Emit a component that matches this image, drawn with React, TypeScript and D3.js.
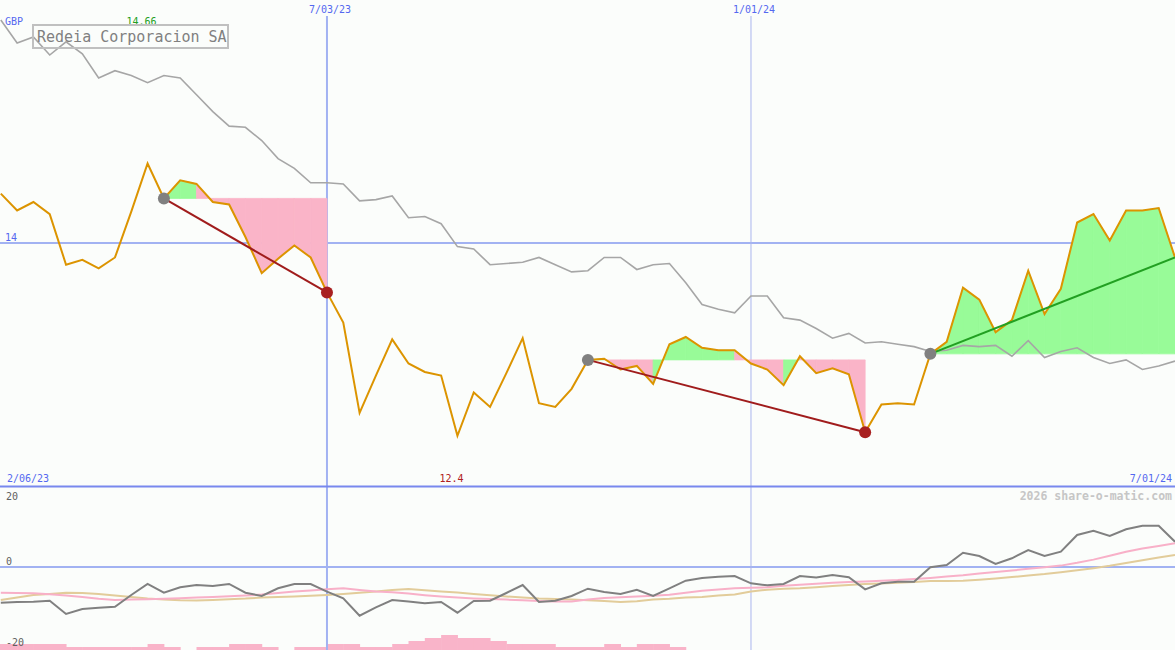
import React from "react";
import * as d3 from "d3";

const W = 1175;
const H = 650;

const axisStart = new Date(2023, 1, 6);
const axisEnd = new Date(2024, 6, 1);
const firstWeek = new Date(2023, 1, 13);
const markerDates = [new Date(2023, 6, 3), new Date(2024, 0, 1)];
const markerLabels = ["7/03/23", "1/01/24"];
const startLabel = "2/06/23";
const endLabel = "7/01/24";
const currency = "GBP";
const title = "Redeia Corporacion SA";
const watermark = "2026 share-o-matic.com";

// weekly close
const price = [
  14.41, 14.27, 14.34, 14.24, 13.82, 13.86, 13.79, 13.88, 14.26, 14.66,
  14.37, 14.52, 14.49, 14.34, 14.32, 14.05, 13.75, 13.87, 13.98, 13.88,
  13.59, 13.34, 12.59, 12.9, 13.2, 13.0, 12.93, 12.9, 12.4, 12.76,
  12.64, 12.92, 13.21, 12.67, 12.64, 12.79, 13.03, 13.04, 12.95, 12.98,
  12.83, 13.16, 13.22, 13.13, 13.11, 13.11, 13.0, 12.95, 12.82, 13.06,
  12.92, 12.96, 12.91, 12.43, 12.66, 12.67, 12.66, 13.08, 13.18, 13.63,
  13.53, 13.26, 13.36, 13.77, 13.41, 13.62, 14.17, 14.24, 14.02, 14.27,
  14.27, 14.29, 13.88,
];

// comparison (grey) line
const compare = [
  15.85, 15.66, 15.71, 15.56, 15.67, 15.57, 15.37, 15.43, 15.39, 15.33,
  15.39, 15.37, 15.23, 15.09, 14.97, 14.96, 14.85, 14.7, 14.62, 14.5,
  14.5, 14.49, 14.35, 14.36, 14.39, 14.21, 14.22, 14.16, 13.97, 13.95,
  13.82, 13.83, 13.84, 13.88, 13.82, 13.76, 13.77, 13.88, 13.88, 13.78,
  13.82, 13.83, 13.67, 13.49, 13.45, 13.42, 13.56, 13.56, 13.38, 13.36,
  13.29, 13.21, 13.25, 13.17, 13.18, 13.16, 13.14, 13.1, 13.11, 13.15,
  13.14, 13.15, 13.06, 13.19, 13.05, 13.1, 13.13, 13.05, 13.0, 13.03,
  12.95, 12.98, 13.02,
];

// lower panel oscillator
const momentum = [
  -9.04, -8.86, -8.78, -8.53, -11.9, -10.63, -10.3, -10.05, -7.09, -4.3,
  -6.51, -5.14, -4.56, -4.81, -4.3, -6.51, -7.34, -5.39, -4.3, -4.3,
  -6.25, -7.92, -12.33, -10.2, -8.35, -8.73, -9.19, -8.86, -11.57, -8.61,
  -8.53, -6.58, -4.56, -8.86, -8.53, -7.34, -5.49, -6.33, -6.84, -5.75,
  -7.34, -5.39, -3.47, -2.78, -2.46, -2.28, -4.13, -4.63, -4.3, -2.28,
  -2.66, -2.03, -2.61, -5.65, -4.13, -3.72, -3.72, -0.08, 0.51, 3.62,
  2.78, 0.76, 2.2, 4.3, 2.78, 3.87, 8.1, 9.19, 7.85, 9.54,
  10.46, 10.46, 6.41,
];

const avgFast = [
  -6.51, -6.58, -6.63, -6.89, -7.22, -7.59, -8.05, -8.33, -8.23, -8.15,
  -8.03, -7.9, -7.72, -7.57, -7.39, -7.22, -6.99, -6.58, -6.23, -5.95,
  -5.65, -5.39, -5.82, -6.2, -6.41, -6.73, -7.14, -7.49, -7.75, -7.97,
  -8.1, -8.25, -8.43, -8.58, -8.73, -8.73, -8.23, -7.85, -7.65, -7.47,
  -7.27, -7.01, -6.51, -6.03, -5.7, -5.39, -5.27, -5.14, -4.76, -4.48,
  -4.23, -3.97, -3.8, -3.65, -3.47, -3.32, -3.04, -2.76, -2.43, -2.1,
  -1.65, -1.29, -0.89, -0.46, -0.05, 0.35, 1.06, 1.87, 2.84, 3.87,
  4.68, 5.32, 6.0,
];

const avgSlow = [
  -8.35, -7.7, -7.09, -6.81, -6.51, -6.58, -6.81, -7.24, -7.59, -7.97,
  -8.2, -8.41, -8.51, -8.33, -8.15, -8.0, -7.75, -7.62, -7.49, -7.29,
  -7.09, -6.81, -6.51, -6.18, -5.8, -5.54, -5.9, -6.23, -6.48, -6.81,
  -7.14, -7.44, -7.75, -7.97, -8.08, -8.23, -8.41, -8.61, -8.86, -8.68,
  -8.25, -8.05, -7.75, -7.57, -7.24, -6.96, -6.23, -5.75, -5.49, -5.39,
  -5.11, -4.81, -4.56, -4.33, -4.15, -4.0, -3.8, -3.57, -3.52, -3.47,
  -3.24, -2.94, -2.56, -2.15, -1.8, -1.34, -0.84, -0.3, 0.3, 1.01,
  1.72, 2.38, 3.04,
];

// volume bands (week ending on each date)
const volumeLevels = [
  2, 2, 2, 2, 2, 1, 1, 1, 1, 1,
  2, 1, 0, 1, 1, 2, 2, 1, 0, 1,
  1, 2, 2, 1, 1, 2, 3, 4, 5, 4,
  4, 3, 2, 2, 2, 1, 1, 1, 2, 1,
  2, 2, 1, 0, 0, 0, 0, 0, 0, 0,
  0, 0, 0, 0, 0, 0, 0, 0, 0, 0,
  0, 0, 0, 0, 0, 0, 0, 0, 0, 0,
  0, 0, 0,
];

const trends = [
  { from: 10, to: 20, open: false },
  { from: 36, to: 53, open: false },
  { from: 57, to: 72, open: true },
];

const priceTicks = [14];
const oscTicks = [20, 0, -20];

const FONT = "'DejaVu Sans Mono', monospace";
const BLUE_TXT = "#5468f0";
const GRID = "#a2b2f2";
const ORANGE = "#dc9400";
const GREEN_FILL = "#98fb98";
const PINK_FILL = "#fab4c8";

export default function App() {
  const dates = price.map((_, k) => d3.timeDay.offset(firstWeek, 7 * k));
  const x = d3.scaleTime().domain([axisStart, axisEnd]).range([-15.5, 1175]);
  const y = d3.scaleLinear().domain([12, 16]).range([484, 2]);
  const yo = d3.scaleLinear().domain([-20, 20]).range([646, 488]);
  const yv = d3.scaleLinear().domain([0, 5]).range([650, 635]);

  const lineMain = d3
    .line<number>()
    .x((_, i) => x(dates[i]))
    .y((d) => y(d));
  const lineOsc = d3
    .line<number>()
    .x((_, i) => x(dates[i]))
    .y((d) => yo(d));

  const maxIdx = d3.maxIndex(price);
  const minIdx = d3.minIndex(price);
  const fmt = d3.format("~g");

  // trend fills: per segment, colored by end value vs the trend's start value
  const fills: { d: string; color: string }[] = [];
  trends.forEach((t) => {
    const base = price[t.from];
    const area = d3
      .area<number>()
      .x((k) => x(dates[k]))
      .y0(() => y(base))
      .y1((k) => y(price[k]));
    for (let k = t.from; k < t.to; k++) {
      fills.push({
        d: area([k, k + 1]) || "",
        color: price[k + 1] >= base ? GREEN_FILL : PINK_FILL,
      });
    }
  });

  return (
    <svg
      width={W}
      height={H}
      style={{ position: "absolute", left: 0, top: 0, display: "block" }}
      fontFamily={FONT}
    >
      <rect x={0} y={0} width={W} height={H} fill="#fbfdfb" />

      {/* volume bands */}
      {volumeLevels.map((v, k) =>
        v > 0 ? (
          <rect
            key={"v" + k}
            x={x(d3.timeDay.offset(dates[k], -7))}
            width={x(dates[k]) - x(d3.timeDay.offset(dates[k], -7)) + 0.5}
            y={yv(v)}
            height={yv(0) - yv(v)}
            fill="#f9b4c9"
          />
        ) : null
      )}

      {/* grid */}
      {priceTicks.map((t) => (
        <line key={"pt" + t} x1={0} x2={W} y1={y(t)} y2={y(t)} stroke={GRID} strokeWidth={2} />
      ))}
      <line x1={0} x2={W} y1={yo(0)} y2={yo(0)} stroke={GRID} strokeWidth={2} />
      {markerDates.map((d, i) => (
        <line
          key={"md" + i}
          x1={x(d)}
          x2={x(d)}
          y1={16}
          y2={H}
          stroke={i === 0 ? GRID : "#aab6ee"}
          strokeWidth={i === 0 ? 2 : 1}
        />
      ))}
      <line x1={0} x2={W} y1={486.5} y2={486.5} stroke="#7888ee" strokeWidth={2} />

      {/* trend fills */}
      {fills.map((f, i) => (
        <path
          key={"f" + i}
          d={f.d}
          fill={f.color}
          stroke={f.color}
          strokeWidth={0.8}
          strokeLinejoin="miter"
        />
      ))}

      {/* lines */}
      <path d={lineMain(compare) || ""} fill="none" stroke="#a6a6a6" strokeWidth={1.6} />
      <path d={lineMain(price) || ""} fill="none" stroke={ORANGE} strokeWidth={2} />

      {/* trend lines */}
      {trends.map((t, i) => {
        const up = price[t.to] >= price[t.from];
        return (
          <line
            key={"tl" + i}
            x1={x(dates[t.from])}
            y1={y(price[t.from])}
            x2={x(dates[t.to])}
            y2={y(price[t.to])}
            stroke={up ? "#22a022" : "#a01c1c"}
            strokeWidth={2}
          />
        );
      })}
      {trends.map((t, i) => (
        <g key={"td" + i}>
          <circle cx={x(dates[t.from])} cy={y(price[t.from])} r={6} fill="#808080" />
          {!t.open && (
            <circle
              cx={x(dates[t.to])}
              cy={y(price[t.to])}
              r={6}
              fill={price[t.to] >= price[t.from] ? "#22a022" : "#a82020"}
            />
          )}
        </g>
      ))}

      {/* oscillator */}
      <path d={lineOsc(avgSlow) || ""} fill="none" stroke="#e2cc9a" strokeWidth={2} />
      <path d={lineOsc(avgFast) || ""} fill="none" stroke="#f8b0c8" strokeWidth={2} />
      <path d={lineOsc(momentum) || ""} fill="none" stroke="#808080" strokeWidth={2} />

      {/* texts */}
      <text x={5} y={25} fontSize={10} fill={BLUE_TXT}>
        {currency}
      </text>
      <text x={x(dates[maxIdx]) - 6} y={25} fontSize={10} fill="#22a022" textAnchor="middle">
        {fmt(price[maxIdx])}
      </text>
      <text x={x(dates[minIdx]) - 6} y={482} fontSize={10} fill="#b02020" textAnchor="middle">
        {fmt(price[minIdx])}
      </text>
      {priceTicks.map((t) => (
        <text key={"ptl" + t} x={5} y={y(t) - 2} fontSize={10} fill={BLUE_TXT}>
          {t}
        </text>
      ))}
      {markerDates.map((d, i) => (
        <text key={"ml" + i} x={x(d) + 3} y={13} fontSize={10} fill={BLUE_TXT} textAnchor="middle">
          {markerLabels[i]}
        </text>
      ))}
      <text x={7} y={482} fontSize={10} fill={BLUE_TXT}>
        {startLabel}
      </text>
      <text x={1172} y={482} fontSize={10} fill={BLUE_TXT} textAnchor="end">
        {endLabel}
      </text>
      <text x={1172} y={500} fontSize={11.5} fontWeight="bold" fill="#c6c6c6" textAnchor="end">
        {watermark}
      </text>
      {oscTicks.map((t) => (
        <text
          key={"ot" + t}
          x={6}
          y={t < 0 ? yo(t) : Math.max(500, yo(t) - 2)}
          fontSize={10}
          fill="#606060"
        >
          {t}
        </text>
      ))}

      {/* title box */}
      <rect x={33} y={25} width={195} height={23} fill="none" stroke="#c0c0c0" strokeWidth={2} />
      <text x={37} y={41.5} fontSize={15} fill="#808080">
        {title}
      </text>
    </svg>
  );
}
